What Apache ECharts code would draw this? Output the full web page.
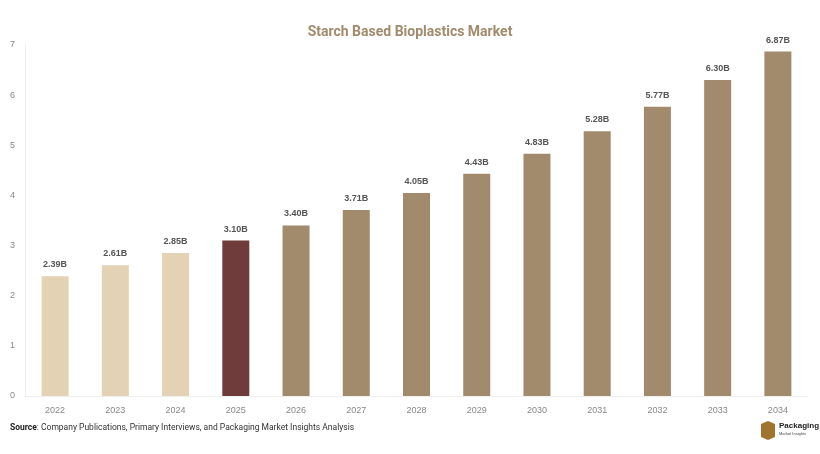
<!DOCTYPE html><html><head><meta charset="utf-8"><script src="https://cdn.jsdelivr.net/npm/echarts@6/dist/echarts.min.js"></script>
<style>body{margin:0}#c{width:820px;height:454px}</style></head><body><div id="c"></div><script>
const years=['2022','2023','2024','2025','2026','2027','2028','2029','2030','2031','2032','2033','2034'];
const values=[2.39,2.61,2.85,3.10,3.40,3.71,4.05,4.43,4.83,5.28,5.77,6.30,6.87];
const yTicks=[0,1,2,3,4,5,6,7];
const colorOf=i=>i<3?'#e3d2b4':(i===3?'#6f3b3b':'#a28b6c');
const ch=echarts.init(document.getElementById('c'));
ch.setOption({
 title:{text:'Starch Based Bioplastics Market',left:'center',top:20,textStyle:{fontFamily:'Roboto',fontSize:14,fontWeight:'bold',color:'#a28b6c'}},
 grid:{left:25,right:12,top:45,bottom:58},
 xAxis:{type:'category',data:years,axisLine:{lineStyle:{color:'#eeeeee'}},axisTick:{show:false},axisLabel:{color:'#888',fontSize:9,margin:10}},
 yAxis:{type:'value',min:0,max:7,interval:1,axisLine:{show:true,lineStyle:{color:'#eeeeee'}},splitLine:{show:false},axisLabel:{color:'#888',fontSize:9,margin:10,formatter:v=>yTicks.includes(v)?v:''}},
 series:[{type:'bar',barWidth:27,data:values.map((v,i)=>({value:v,itemStyle:{color:colorOf(i)}})),
  label:{show:true,position:'top',distance:7,formatter:p=>p.value.toFixed(2)+'B',color:'#555',fontSize:9,fontWeight:'bold'}}],
 graphic:[{type:'text',left:10,top:423,style:{rich:{b:{fontWeight:'bold',fontSize:8.5,fill:'#222',fontFamily:'Roboto'},n:{fontSize:8.5,fill:'#333',fontFamily:'Roboto'}},text:'{b|Source}{n|: Company Publications, Primary Interviews, and Packaging Market Insights Analysis}'}},
  {type:'polygon',shape:{points:[[768,421],[775,424],[775,437],[768,440],[761,437],[761,424]]},style:{fill:'#a0742f'}},
  {type:'text',left:779,top:422,style:{text:'Packaging',fontSize:8,fontWeight:'bold',fill:'#222'}},
  {type:'text',left:779,top:432,style:{text:'Market Insights',fontSize:4,fill:'#444'}}]
});
</script></body></html>
